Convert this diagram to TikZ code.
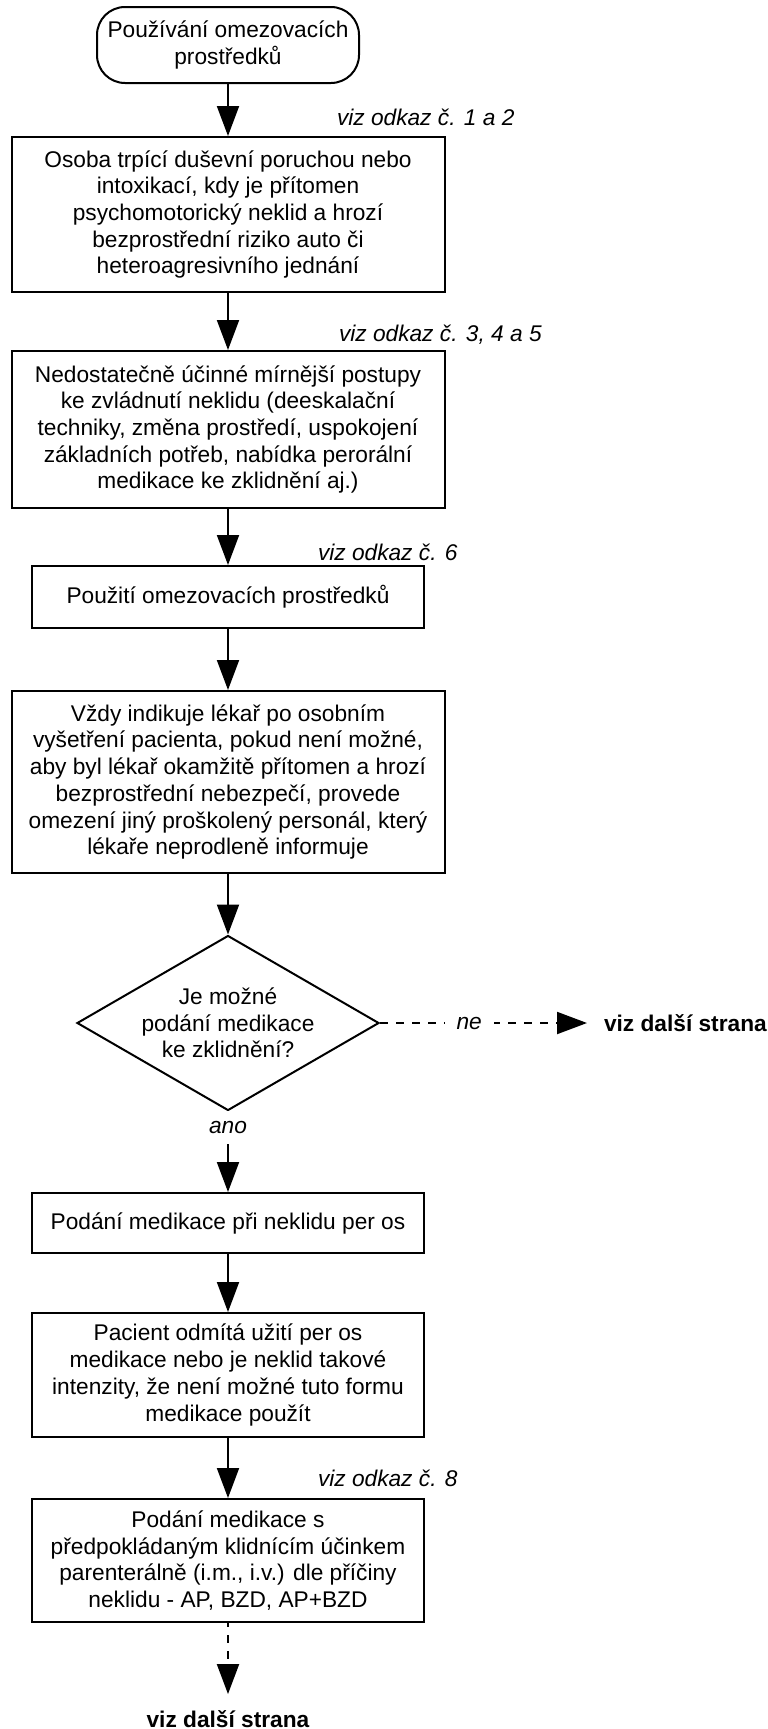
\documentclass[tikz,border=0pt]{standalone}
\usepackage{fontspec}
\setmainfont{Liberation Sans}
\usetikzlibrary{shapes.geometric,arrows.meta,positioning}

\begin{document}
\begin{tikzpicture}[x=1pt, y=-1pt, line width=2pt,
    font=\fontsize{22.7}{26.7}\selectfont,
    box/.style={draw, minimum width=433pt, align=center, inner sep=2pt},
    narrowbox/.style={box, minimum width=392pt},
    term/.style={draw, rounded corners=28pt, minimum width=262pt, minimum height=76pt, align=center, inner sep=2pt},
    decision/.style={draw, diamond, aspect=1.73, minimum width=302pt, minimum height=175pt, align=center, inner sep=0pt},
    arr/.style={-{Triangle[length=30pt, width=22pt]}},
    dasharr/.style={arr, dash pattern=on 8pt off 8pt},
    ref/.style={font=\fontsize{22.7}{26.7}\selectfont\itshape, anchor=west, inner sep=0pt},
    answer/.style={font=\fontsize{22.7}{26.7}\selectfont\itshape, fill=white, inner xsep=12pt, inner ysep=10pt},
    next/.style={font=\fontsize{22.7}{26.7}\selectfont\bfseries, inner sep=0pt}]
  \useasboundingbox (0,0) rectangle (768,1729);

  % Postup
  \node[term] (start) at (228,45) {Používání omezovacích\\prostředků};
  \node[box, minimum height=155pt] (osoba) at (228,214.5) {Osoba trpící duševní poruchou nebo\\intoxikací, kdy je přítomen\\psychomotorický neklid a hrozí\\bezprostřední riziko auto či\\heteroagresivního jednání};
  \node[box, minimum height=157pt] (postupy) at (228,429.5) {Nedostatečně účinné mírnější postupy\\ke zvládnutí neklidu (deeskalační\\techniky, změna prostředí, uspokojení\\základních potřeb, nabídka perorální\\medikace ke zklidnění aj.)};
  \node[narrowbox, minimum height=62pt] (pouziti) at (228,597) {Použití omezovacích prostředků};
  \node[box, minimum height=182pt] (indikace) at (228,782) {Vždy indikuje lékař po osobním\\vyšetření pacienta, pokud není možné,\\aby byl lékař okamžitě přítomen a hrozí\\bezprostřední nebezpečí, provede\\omezení jiný proškolený personál, který\\lékaře neprodleně informuje};
  \node[decision] (medikace) at (228,1023) {Je možné\\podání medikace\\ke zklidnění?};
  \node[narrowbox, minimum height=60pt] (peros) at (228,1223) {Podání medikace při neklidu per os};
  \node[narrowbox, minimum height=124pt] (odmita) at (228,1375) {Pacient odmítá užití per os\\medikace nebo je neklid takové\\intenzity, že není možné tuto formu\\medikace použít};
  \node[narrowbox, minimum height=123pt] (parenteral) at (228,1560.5) {Podání medikace s\\předpokládaným klidnícím účinkem\\parenterálně (i.m., i.v.) dle příčiny\\neklidu - AP, BZD, AP+BZD};
  \node[next, anchor=west] (dalsi1) at (603,1023) {viz další strana};
  \node[next, anchor=base] (dalsi2) at (228,1727) {viz další strana};

  % Odkazy
  \node[ref] (odkaz1) at (336,117) {viz odkaz č. 1 a 2};
  \node[ref] (odkaz2) at (338,335) {viz odkaz č. 3, 4 a 5};
  \node[ref] (odkaz3) at (317,552) {viz odkaz č. 6};
  \node[ref] (odkaz4) at (317,1478) {viz odkaz č. 8};

  \draw[arr] (start) -- (osoba);
  \draw[arr] (osoba) -- (postupy);
  \draw[arr] (postupy) -- (pouziti);
  \draw[arr] (pouziti) -- (indikace);
  \draw[arr] (indikace) -- (medikace);
  \draw[arr] (medikace) -- node[answer, pos=0.2] {ano} (peros);
  \draw[dasharr, shorten >=16pt] (medikace) -- node[answer, pos=0.4, inner ysep=2pt] {ne} (dalsi1);
  \draw[arr] (peros) -- (odmita);
  \draw[arr] (odmita) -- (parenteral);
  \draw[dasharr, dash phase=4pt, shorten >=15pt] (parenteral) -- (dalsi2);
\end{tikzpicture}
\end{document}
